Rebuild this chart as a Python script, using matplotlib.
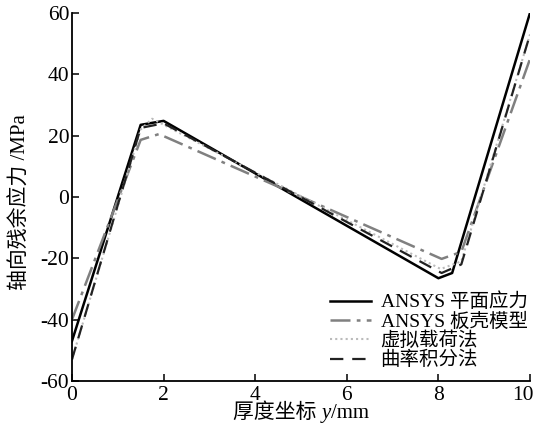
import matplotlib
matplotlib.use("Agg")
import matplotlib.pyplot as plt
from matplotlib.transforms import ScaledTranslation

plt.rcParams['font.family'] = ['Liberation Serif', 'Noto Sans CJK SC']
plt.rcParams['axes.unicode_minus'] = False

# ANSYS 平面应力
plane_x = [0, 1.5, 2.0, 8.0, 8.3, 10.0]
plane_y = [-47, 23.5, 24.8, -26.5, -24.8, 60]
# ANSYS 板壳模型
shell_x = [0, 1.5, 1.9, 8.07, 8.5, 10.0]
shell_y = [-40, 18.6, 20.5, -20.2, -17.9, 45]
# 虚拟载荷法
virtual_x = [0, 1.5, 1.75, 8.05, 8.5, 10.0]
virtual_y = [-53, 22, 25.5, -23.5, -21, 53]
# 曲率积分法
curv_x = [0, 1.5, 2.0, 8.07, 8.5, 10.0]
curv_y = [-53, 22.5, 24, -24.8, -22, 53]

labels = ["ANSYS 平面应力", "ANSYS 板壳模型", "虚拟载荷法", "曲率积分法"]
xticks = [0, 2, 4, 6, 8, 10]
yticks = [-60, -40, -20, 0, 20, 40, 60]

fig = plt.figure(figsize=(5.37, 4.30), dpi=100)
ax = fig.add_axes([0.134, 0.114, 0.853, 0.856])

ax.plot(plane_x, plane_y, color="black", lw=1.8, label=labels[0])
ax.plot(shell_x, shell_y, color="#808080", lw=1.8, dashes=(8, 2.5, 1.5, 2.5),
        label=labels[1])
ax.plot(virtual_x, virtual_y, color="#bbbbbb", lw=1.5, dashes=(1, 1.5),
        label=labels[2])
ax.plot(curv_x, curv_y, color="#222222", lw=1.6, dashes=(6, 4),
        label=labels[3])

ax.set_xlim(0, 10)
ax.set_ylim(-60, 60)
ax.set_xticks(xticks)
ax.set_yticks(yticks)
ax.spines["top"].set_visible(False)
ax.spines["right"].set_visible(False)
ax.spines["left"].set_linewidth(1.3)
ax.spines["bottom"].set_linewidth(1.3)
ax.tick_params(direction="in", length=5, width=1.1, labelsize=15.5)
ax.tick_params(axis="x", pad=3.5)
ax.tick_params(axis="y", pad=2)
# keep "10" inside the canvas
last = ax.get_xticklabels()[-1]
last.set_transform(last.get_transform()
                   + ScaledTranslation(-5 / 72, 0, fig.dpi_scale_trans))

ax.set_ylabel("轴向残余应力 /MPa", fontsize=15)
ax.yaxis.set_label_coords(-0.09, 0.486)

# x label: CJK part, italic y, then /mm on one baseline
y0 = -0.1
t1 = ax.text(0.352, y0, "厚度坐标 ", transform=ax.transAxes,
             ha="left", va="baseline", fontsize=15)
t2 = ax.annotate("y", xy=(1, y0), xycoords=(t1, "axes fraction"),
                 ha="left", va="baseline", fontsize=15, style="italic")
ax.annotate("/mm", xy=(1, y0), xycoords=(t2, "axes fraction"),
            ha="left", va="baseline", fontsize=15)

ax.legend(loc="lower right", bbox_to_anchor=(1.02, 0.0), frameon=False,
          fontsize=14, handlelength=2.1, handletextpad=0.5,
          labelspacing=0.05, borderaxespad=0.2)

fig.savefig("out.png", dpi=100)
